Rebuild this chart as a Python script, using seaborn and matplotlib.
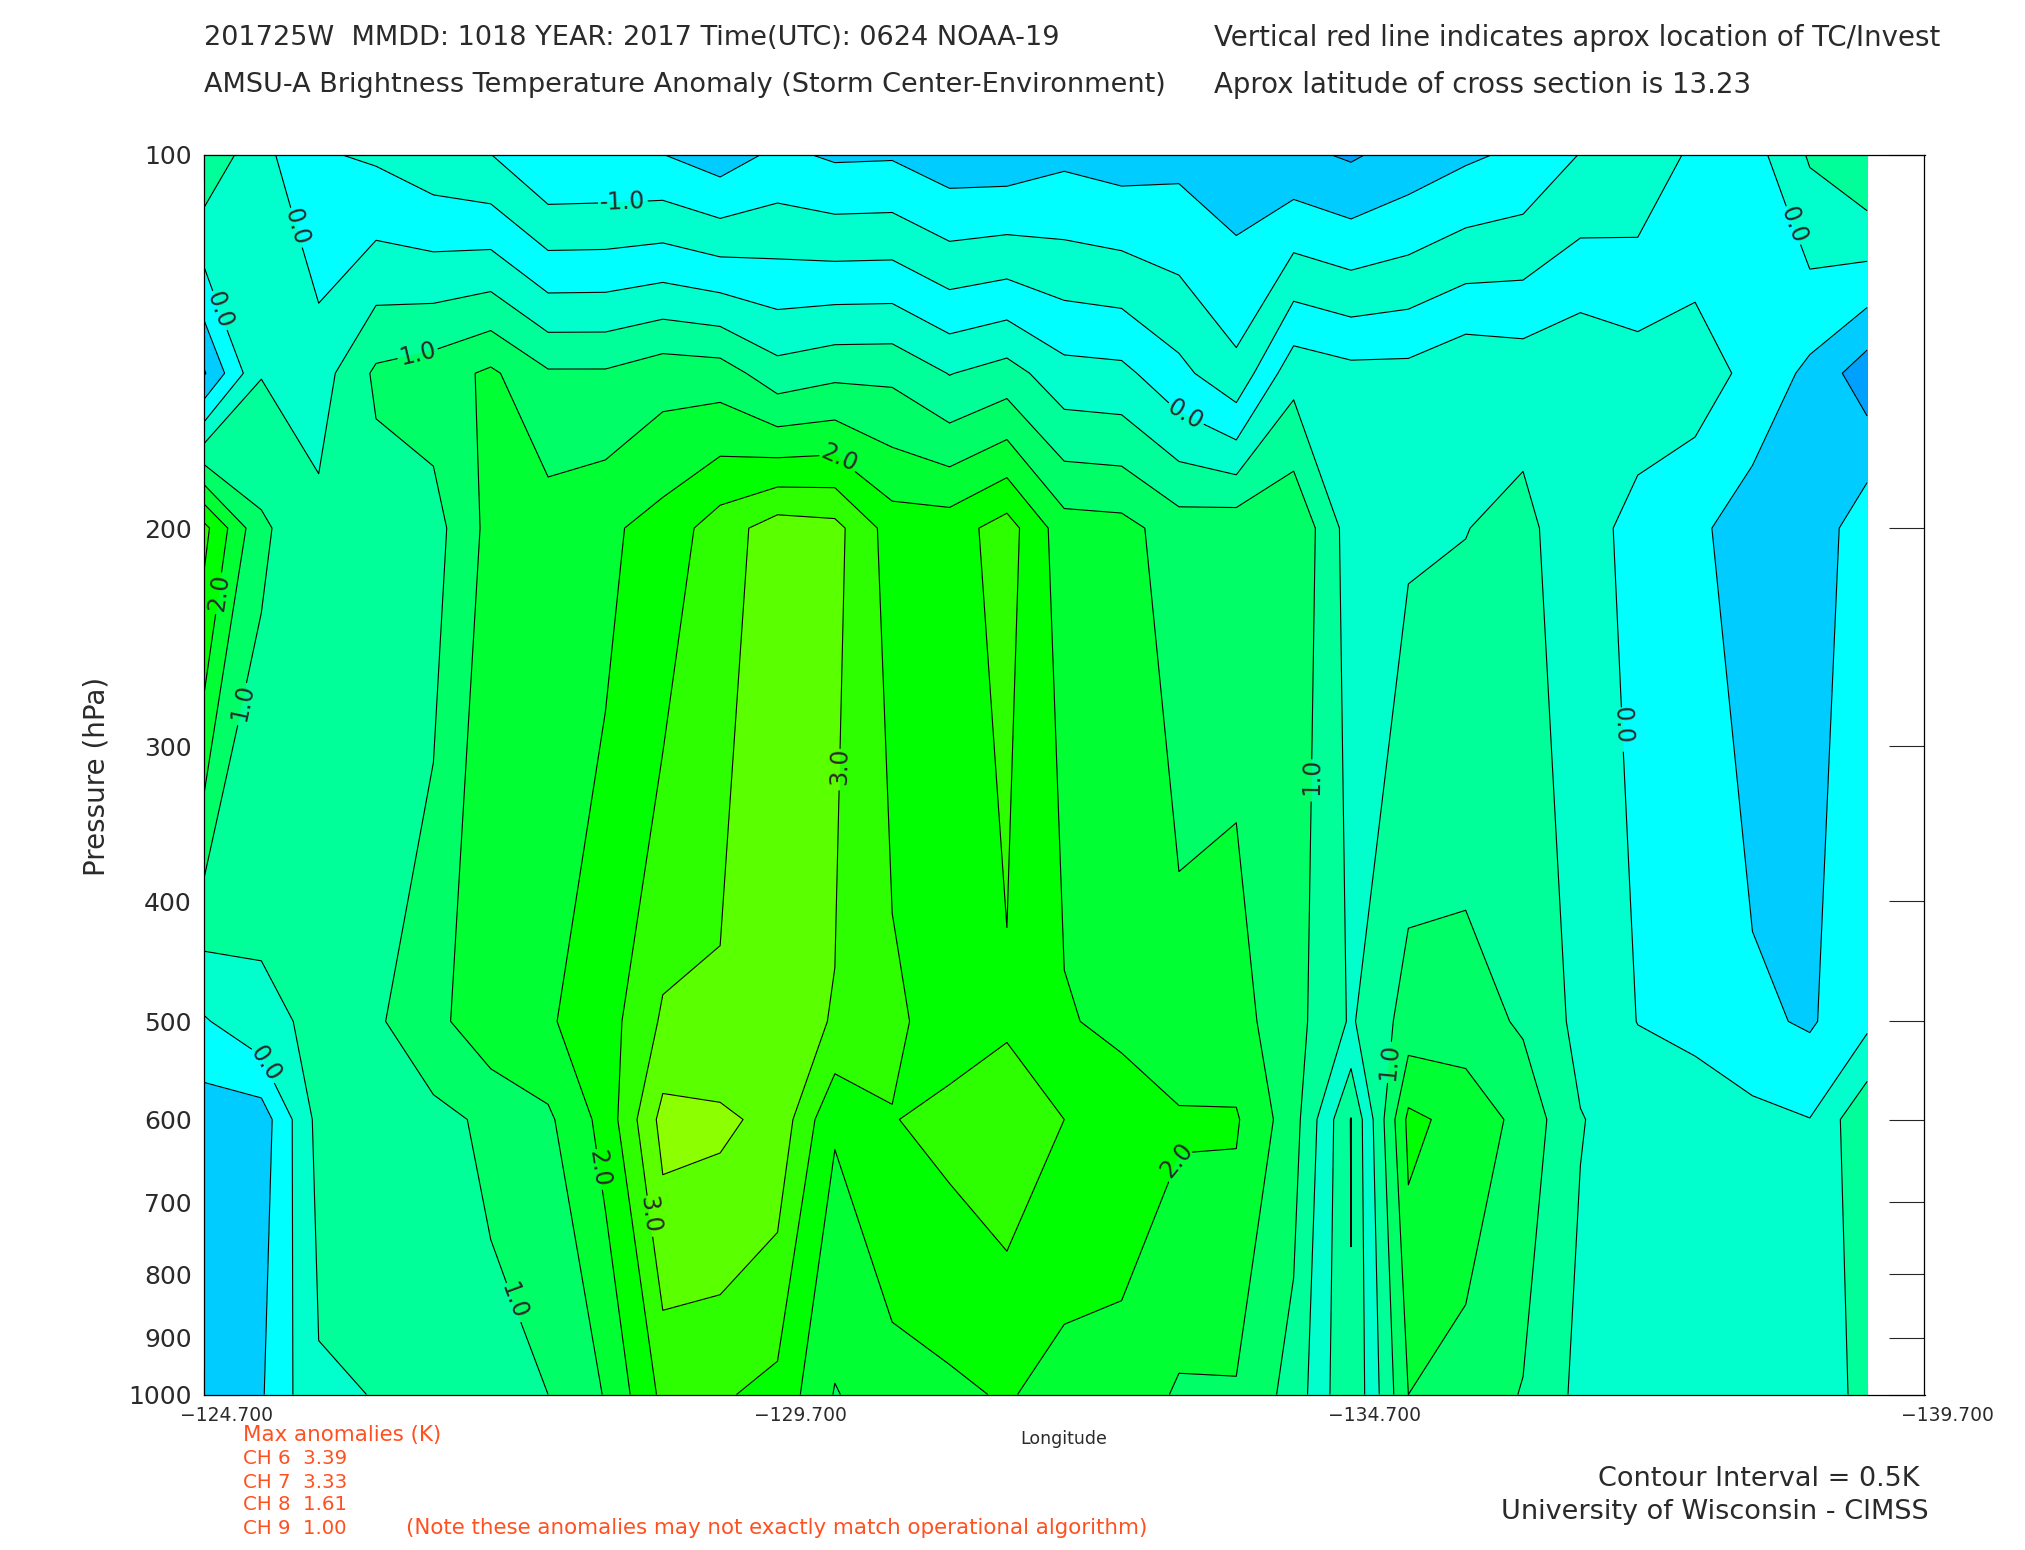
import numpy as np
import matplotlib
matplotlib.use("Agg")
import matplotlib.pyplot as plt
from matplotlib.ticker import NullLocator
from matplotlib.transforms import ScaledTranslation
import seaborn as sns

# anomaly (K) read along each pressure level, one value per 0.5 deg of longitude
t100 = [0.9, 0.15, -0.45, -0.57, -0.82, -0.99, -1.49, -1.47, -1.49, -1.75, -1.39, -1.57, -1.55, -1.79, -1.8,
        -1.61, -1.72, -1.64, -1.8, -1.88, -2.06, -1.8, -1.58, -1.4, -0.98, -0.87, -0.39, -0.2, 0.555, 1.0]
t150 = [-1.05, 0.48, 0.26, 1.09, 1.26, 1.59, 1.06, 1.06, 1.3, 1.25, 0.7, 0.88, 0.89, 0.48, 0.71,
        0.18, 0.13, -0.36, -0.87, 0.33, 0.16, 0.16, 0.42, 0.32, 0.46, 0.25, 0.23, -0.13, -0.62, -1.29]
t200 = [2.65, 1.08, 0.65, 0.75, 0.8, 1.66, 1.75, 1.9, 2.2, 2.75, 3.25, 3.16, 2.27, 2.27, 2.72,
        1.72, 1.67, 1.25, 1.33, 1.45, 0.26, 0.445, 0.49, 0.62, 0.2, -0.15, -0.38, -0.79, -0.9, -0.12]
t500 = [-0.05, 0.375, 0.6, 0.93, 1.35, 1.85, 1.95, 2.27, 3.07, 3.07, 3.2, 2.97, 2.6, 2.27, 2.42,
        2.05, 1.87, 1.67, 1.68, 1.18, 0.44, 1.2, 1.23, 0.93, 0.36, -0.01, -0.1, -0.4, -0.56, -0.12]
t600 = [-0.8, -0.77, 0.66, 0.75, 0.87, 1.09, 1.41, 2.18, 3.67, 3.6, 3.35, 2.05, 2.48, 2.64, 2.82,
        2.5, 2.3, 2.06, 2.05, 1.2, -0.52, 2.12, 1.82, 1.34, 0.52, 0.3, 0.2, 0.14, 0.01, 0.93]
t1000 = [-0.8, -0.55, 0.45, 0.51, 0.7, 0.85, 1.0, 1.53, 2.62, 2.56, 2.35, 1.47, 1.78, 1.9, 2.05,
         1.78, 1.8, 1.44, 1.45, 0.81, -0.47, 1.5, 1.3, 0.97, 0.37, 0.3, 0.3, 0.35, 0.46, 0.52]

pressure = [100, 150, 200, 500, 600, 1000]
lon = -124.7 - 0.5 * np.arange(30)
lon_major = [-124.7, -129.7, -134.7, -139.7]
p_ticks = [100, 200, 300, 400, 500, 600, 700, 800, 900, 1000]

levels = [-2.5, -2, -1.5, -1, -0.5, 0, 0.5, 1, 1.5, 2, 2.5, 3, 3.5, 4]
label_levels = [-1, 0, 1, 2, 3]
plain_levels = [v for v in levels if v not in label_levels]
band_colors = ["#00a0ff", "#00a0ff", "#00a0ff", "#00ccff", "#00ffff", "#00ffcc", "#00ff99",
               "#00ff66", "#00ff33", "#00ff00", "#2dff00", "#5aff00", "#8cff00"]
# the upper levels and the narrow trough near -134.7 are shaded differently in the source
top_levels = [-2.5, -2, -1.5, -1, -0.5]
top_colors = ["#00a0ff", "#00ccff", "#00ffff", "#00ffcc"]
trough_levels = [-1, 0]
trough_colors = ["#00ff99"]

label_pos = [(-128.35, 108), (-125.54, 114), (-124.87, 133), (-133.27, 161), (-125.27, 539), (-138.65, 113),
             (-137.15, 288), (-126.55, 143), (-124.94, 275), (-134.35, 317), (-127.42, 840), (-135.03, 539),
             (-130.27, 174), (-124.79, 225), (-128.18, 657), (-133.14, 645), (-130.22, 311), (-128.64, 715)]

header_left = [("201725W  MMDD: 1018 YEAR: 2017 Time(UTC): 0624 NOAA-19", 204, 38),
               ("AMSU-A Brightness Temperature Anomaly (Storm Center-Environment)", 204, 85)]
header_right = [("Vertical red line indicates aprox location of TC/Invest", 1214, 38),
                ("Aprox latitude of cross section is 13.23", 1214, 85)]
max_lines = [("CH 6  3.39", 243, 1459), ("CH 7  3.33", 243, 1482), ("CH 8  1.61", 243, 1505), ("CH 9  1.00", 243, 1528)]
note_lines = [("Max anomalies (K)", 243, 1435),
              ("(Note these anomalies may not exactly match operational algorithm)", 406, 1528)]

W, H = 2025, 1550
sns.set_theme(style="white")
plt.rcParams["font.family"] = ["DejaVu Sans"]
ink = "#2a2a2a"

z = np.array([t100, t150, t200, t500, t600, t1000])

fig = plt.figure(figsize=(W / 100, H / 100), dpi=100)
ax = fig.add_axes([204 / W, 1 - 1394.5 / H, (1924.5 - 204) / W, (1394.5 - 155) / H])
ax.set_yscale("log")
ax.set_xlim(-124.7, -139.7)
ax.set_ylim(1000, 100)

ax.contourf(lon, pressure, z, levels=levels, colors=sns.color_palette(band_colors), antialiased=False)

top = np.ma.array(z[:3, 2:28])
top[2, 19:] = np.ma.masked
ax.contourf(lon[2:28], pressure[:3], top, levels=top_levels, colors=sns.color_palette(top_colors), antialiased=False)
ax.contourf(lon[19:22], pressure[3:], z[3:, 19:22], levels=trough_levels, colors=sns.color_palette(trough_colors),
            antialiased=False)

ax.contour(lon, pressure, z, levels=plain_levels, colors="black", linewidths=0.8, linestyles="solid")
cs = ax.contour(lon, pressure, z, levels=label_levels, colors="black", linewidths=0.8, linestyles="solid")
ax.clabel(cs, fmt="%.1f", fontsize=17, colors=ink, manual=label_pos, inline_spacing=2)

ax.set_yticks(p_ticks)
ax.set_yticklabels([str(p) for p in p_ticks], fontsize=18, color=ink)
ax.yaxis.set_minor_locator(NullLocator())
ax.set_xticks(lon_major)
ax.set_xticklabels(["\u2212%.3f" % abs(v) for v in lon_major], fontsize=13.5, color=ink)
ax.set_xticks(-124.7 - 0.5 * np.arange(31), minor=True)
ax.tick_params(axis="y", which="major", direction="in", length=25, width=0.8, left=True, right=True, pad=9)
ax.tick_params(axis="x", which="major", direction="in", length=18, width=0.8, top=True, bottom=True, pad=8)
ax.tick_params(axis="x", which="minor", direction="in", length=9, width=0.8, top=True, bottom=True)

# longitude labels sit to the right of their ticks
shift = ScaledTranslation(23 / 100, 0, fig.dpi_scale_trans)
for lab in ax.get_xticklabels():
    lab.set_transform(lab.get_transform() + shift)
last = ax.xaxis.get_major_ticks()[-1]
last.tick1line.set_visible(False)
last.tick2line.set_visible(False)

for spine in ax.spines.values():
    spine.set_visible(True)
    spine.set_color("black")
    spine.set_linewidth(0.9)

for txt, x, y in header_left:
    fig.text(x / W, 1 - y / H, txt, fontsize=19.5, color=ink, va="center", ha="left")
for txt, x, y in header_right:
    fig.text(x / W, 1 - y / H, txt, fontsize=19.9, color=ink, va="center", ha="left")
for txt, x, y in max_lines:
    fig.text(x / W, 1 - y / H, txt, fontsize=14.2, color="#ff5020", va="center", ha="left")
for txt, x, y in note_lines:
    fig.text(x / W, 1 - y / H, txt, fontsize=15.4, color="#ff5020", va="center", ha="left")

fig.text(96 / W, 1 - 776 / H, "Pressure (hPa)", fontsize=20, color=ink, rotation=90, va="center", ha="center")
fig.text(1064 / W, 1 - 1439 / H, "Longitude", fontsize=12.5, color=ink, va="center", ha="center")
fig.text(1920 / W, 1 - 1479 / H, "Contour Interval = 0.5K", fontsize=19.5, color=ink, va="center", ha="right")
fig.text(1929 / W, 1 - 1512 / H, "University of Wisconsin - CIMSS", fontsize=19.5, color=ink, va="center", ha="right")

fig.savefig("out.png", dpi=100)
